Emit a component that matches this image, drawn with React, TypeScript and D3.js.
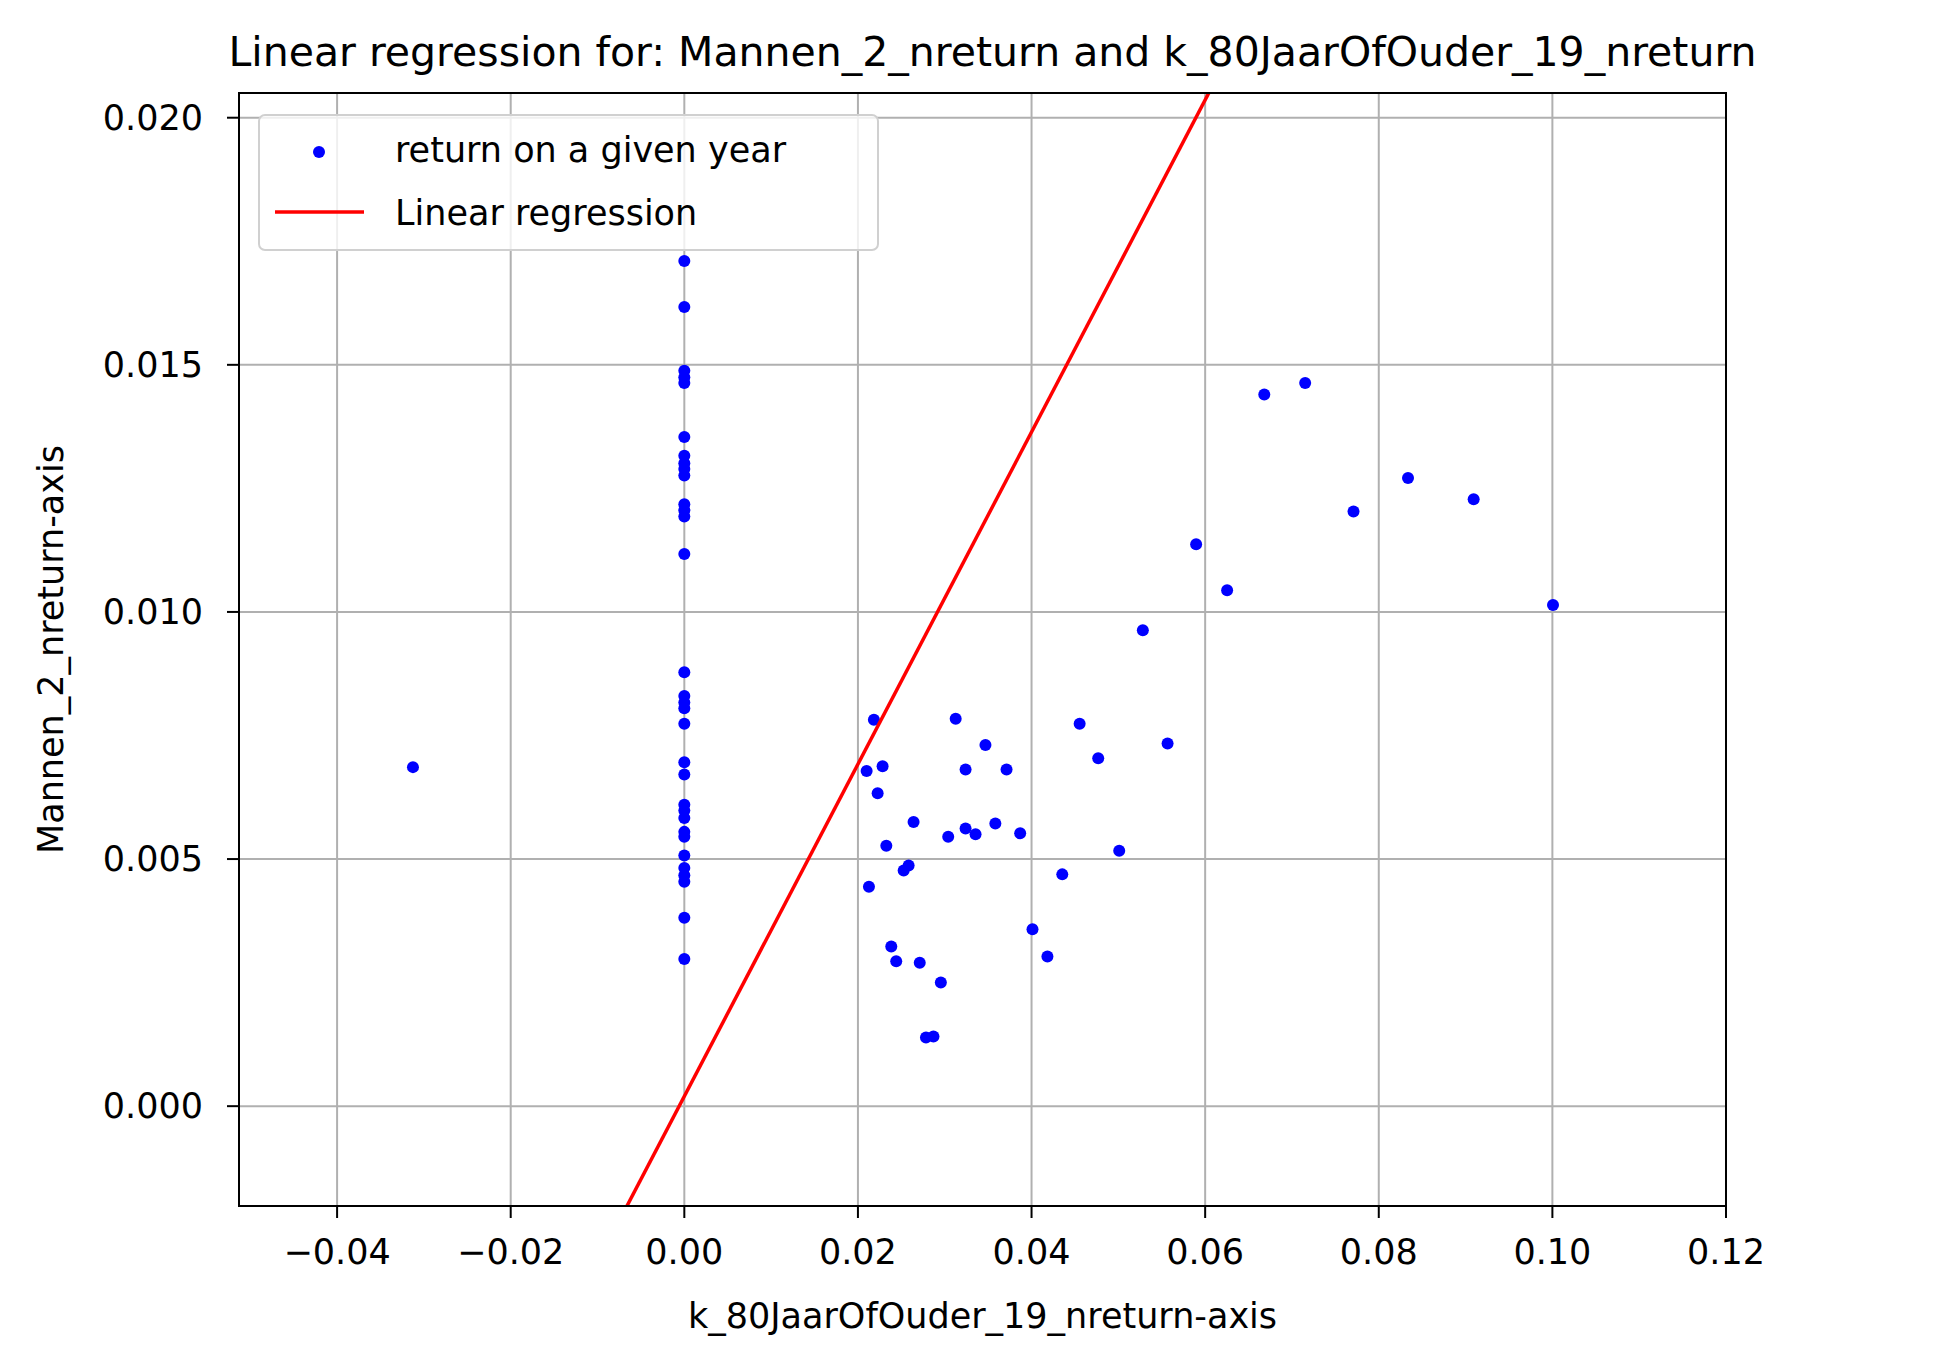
import React from 'react';
import * as d3 from 'd3';

const zeroYs = [0.0171, 0.01617, 0.01488, 0.01475, 0.01463, 0.01354, 0.01316, 0.01301, 0.01289, 0.01276, 0.01218, 0.01206, 0.01193, 0.01117, 0.00878, 0.0083, 0.00817, 0.00805, 0.00774, 0.00696, 0.00671, 0.0061, 0.00598, 0.00583, 0.00555, 0.00545, 0.00507, 0.00482, 0.00467, 0.00454, 0.00381, 0.00298];
const otherXs = [-0.03126, 0.021, 0.02184, 0.02284, 0.02227, 0.02127, 0.02327, 0.02384, 0.02441, 0.02527, 0.02584, 0.02641, 0.02712, 0.02784, 0.0287, 0.02955, 0.0304, 0.03126, 0.0324, 0.0324, 0.03355, 0.03469, 0.03583, 0.03712, 0.03869, 0.04011, 0.04183, 0.04354, 0.04554, 0.04768, 0.0501, 0.05282, 0.05567, 0.05896, 0.06253, 0.06681, 0.07152, 0.07709, 0.08337, 0.09093, 0.10007];
const otherYs = [0.00686, 0.00678, 0.00782, 0.00688, 0.00633, 0.00444, 0.00527, 0.00323, 0.00293, 0.00477, 0.00487, 0.00575, 0.0029, 0.00139, 0.00141, 0.0025, 0.00545, 0.00784, 0.00681, 0.00562, 0.0055, 0.00731, 0.00572, 0.00681, 0.00552, 0.00358, 0.00303, 0.00469, 0.00774, 0.00704, 0.00517, 0.00963, 0.00734, 0.01137, 0.01044, 0.0144, 0.01463, 0.01203, 0.01271, 0.01228, 0.01014];
const xTicks = [-0.04, -0.02, 0, 0.02, 0.04, 0.06, 0.08, 0.1, 0.12];
const yTicks = [0, 0.005, 0.01, 0.015, 0.02];
const slope = 0.336;
const intercept = 0.0002;

const W = 1943, H = 1362;
const m = { left: 239, right: 209, top: 93, bottom: 156 };

export default function App() {
  const x = d3.scaleLinear().domain([-0.0513, 0.12]).range([m.left, W - m.right - 8]);
  const y = d3.scaleLinear().domain([-0.00202, 0.0205]).range([H - m.bottom, m.top]);
  const pts = [
    ...zeroYs.map(v => [0, v]),
    ...otherXs.map((v, i) => [v, otherYs[i]]),
  ];
  const [x0, x1] = x.domain();
  const line = d3.line<number>().x(d => x(d)).y(d => y(slope * d + intercept));
  const font = 'DejaVu Sans, sans-serif';
  const right = W - m.right - 8;
  return (
    <svg width={W} height={H} style={{ position: 'absolute', left: 0, top: 0, background: '#fff' }} fontFamily={font}>
      <defs>
        <clipPath id="plot"><rect x={m.left} y={m.top} width={right - m.left} height={H - m.top - m.bottom} /></clipPath>
      </defs>
      <text x={(m.left + right) / 2 + 10} y={66} fontSize={41} textAnchor="middle">Linear regression for: Mannen_2_nreturn and k_80JaarOfOuder_19_nreturn</text>
      {xTicks.map(t => (
        <g key={'x' + t}>
          <line x1={x(t)} x2={x(t)} y1={m.top} y2={H - m.bottom} stroke="#b0b0b0" strokeWidth={2} />
          <line x1={x(t)} x2={x(t)} y1={H - m.bottom} y2={H - m.bottom + 12} stroke="#000" strokeWidth={2} />
          <text x={x(t)} y={H - m.bottom + 58} fontSize={35} textAnchor="middle">{d3.format('.2f')(t).replace('-', '\u2212')}</text>
        </g>
      ))}
      {yTicks.map(t => (
        <g key={'y' + t}>
          <line x1={m.left} x2={right} y1={y(t)} y2={y(t)} stroke="#b0b0b0" strokeWidth={2} />
          <line x1={m.left - 12} x2={m.left} y1={y(t)} y2={y(t)} stroke="#000" strokeWidth={2} />
          <text x={m.left - 36} y={y(t) + 12} fontSize={35} textAnchor="end">{d3.format('.3f')(t)}</text>
        </g>
      ))}
      <g clipPath="url(#plot)">
        {pts.map((p, i) => <circle key={i} cx={x(p[0])} cy={y(p[1])} r={6} fill="#0000ff" />)}
        <path d={line([x0, x1]) ?? ''} stroke="#ff0000" strokeWidth={3.5} fill="none" />
      </g>
      <rect x={m.left} y={m.top} width={right - m.left} height={H - m.top - m.bottom} fill="none" stroke="#000" strokeWidth={2} />
      <text x={(m.left + right) / 2} y={1328} fontSize={35} textAnchor="middle">k_80JaarOfOuder_19_nreturn-axis</text>
      <text transform={`translate(63,${(m.top + H - m.bottom) / 2}) rotate(-90)`} fontSize={35} textAnchor="middle">Mannen_2_nreturn-axis</text>
      <g>
        <rect x={259} y={115} width={619} height={135} rx={6} fill="#fff" fillOpacity={0.8} stroke="#d0d0d0" strokeWidth={2} />
        <circle cx={319} cy={152} r={6} fill="#0000ff" />
        <text x={395} y={162} fontSize={35}>return on a given year</text>
        <line x1={275} x2={364} y1={212} y2={212} stroke="#ff0000" strokeWidth={3.5} />
        <text x={395} y={225} fontSize={35}>Linear regression</text>
      </g>
    </svg>
  );
}
